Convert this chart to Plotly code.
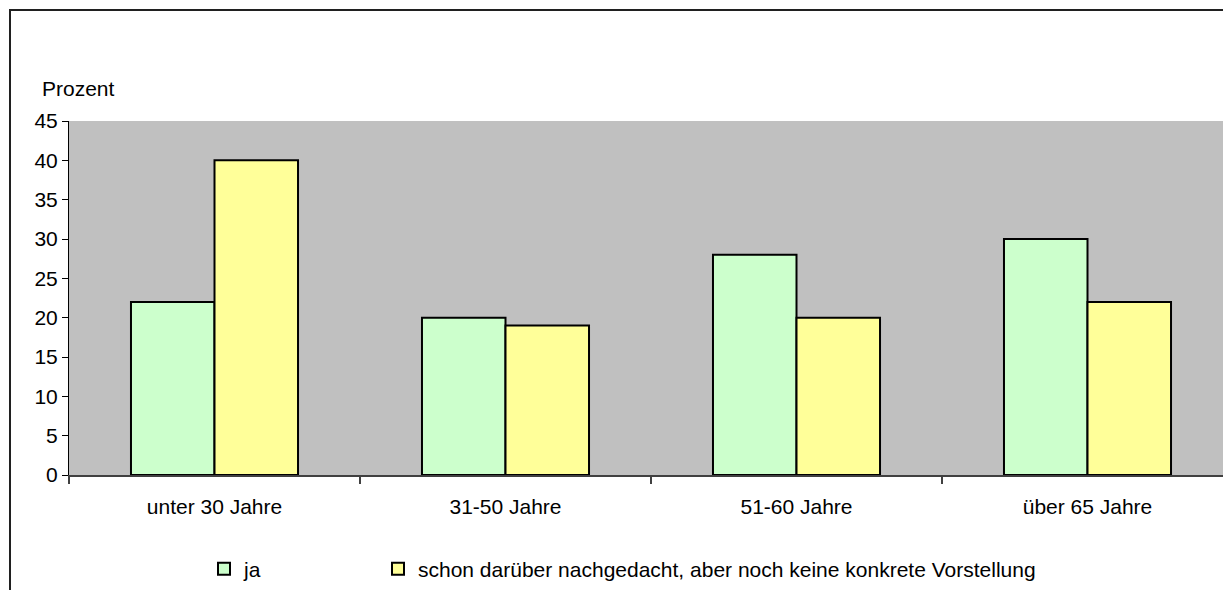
import plotly.graph_objects as go

categories = ["unter 30 Jahre", "31-50 Jahre", "51-60 Jahre", "über 65 Jahre"]
ja_values = [22, 20, 28, 30]
schon_values = [40, 19, 20, 22]
series_names = ["ja", "schon darüber nachgedacht, aber noch keine konkrete Vorstellung"]
y_ticks = [0, 5, 10, 15, 20, 25, 30, 35, 40, 45]

W, H = 1223, 590
L, R = 69, 0
T = 121
B = H - 475
pw = W - L - R
ph = H - T - B


def px(page_x):
    return (page_x - 69) / pw


def py(page_y):
    return (475 - page_y) / ph


FONT = "Liberation Sans, Arial, sans-serif"
FS = 21

fig = go.Figure()
fig.add_trace(go.Bar(
    x=categories, y=ja_values, name=series_names[0],
    marker=dict(color="#CCFFCC", line=dict(color="#000000", width=2)),
    legend="legend",
))
fig.add_trace(go.Bar(
    x=categories, y=schon_values, name=series_names[1],
    marker=dict(color="#FFFF99", line=dict(color="#000000", width=2)),
    legend="legend2",
))

legend_common = dict(
    orientation="h", xanchor="left", yanchor="middle",
    bgcolor="rgba(0,0,0,0)", borderwidth=0,
    font=dict(family=FONT, size=FS, color="#000000"),
)

fig.update_layout(
    width=W, height=H,
    margin=dict(l=L, r=R, t=T, b=B, autoexpand=False),
    paper_bgcolor="#FFFFFF",
    plot_bgcolor="#C0C0C0",
    barmode="group",
    bargap=0.426,
    bargroupgap=0,
    font=dict(family=FONT, size=FS, color="#000000"),
    xaxis=dict(
        type="category",
        range=[-0.5, 3.5 - 10 / 291],
        showgrid=False,
        showline=True, linecolor="#404040", linewidth=1.5,
        ticks="outside", ticklen=7, tickwidth=1.5, tickcolor="#404040",
        tickson="boundaries",
        ticklabelstandoff=12,
        tickfont=dict(family=FONT, size=FS, color="#000000"),
        fixedrange=True,
    ),
    yaxis=dict(
        range=[0, 45],
        tickvals=y_ticks,
        showgrid=False,
        zeroline=False,
        showline=True, linecolor="#000000", linewidth=1,
        ticks="outside", ticklen=6, tickwidth=1, tickcolor="#000000",
        tickfont=dict(family=FONT, size=FS, color="#000000"),
        fixedrange=True,
    ),
    legend=dict(x=px(204), y=py(569), **legend_common),
    legend2=dict(x=px(378), y=py(569), **legend_common),
    showlegend=True,
    annotations=[dict(
        text="Prozent", xref="paper", yref="paper",
        x=px(78), y=py(88),
        xanchor="center", yanchor="middle", showarrow=False,
        font=dict(family=FONT, size=FS, color="#000000"),
    )],
    shapes=[dict(
        type="rect", xref="paper", yref="paper",
        x0=px(10), x1=1.2,
        y0=-1.0, y1=py(10),
        line=dict(color="#202020", width=2),
        fillcolor="rgba(0,0,0,0)", layer="below",
    )],
)

fig.write_html(
    "out.html",
    config={"displayModeBar": False, "staticPlot": False},
    post_script="document.body.style.margin='0';document.body.style.overflow='hidden';",
)
